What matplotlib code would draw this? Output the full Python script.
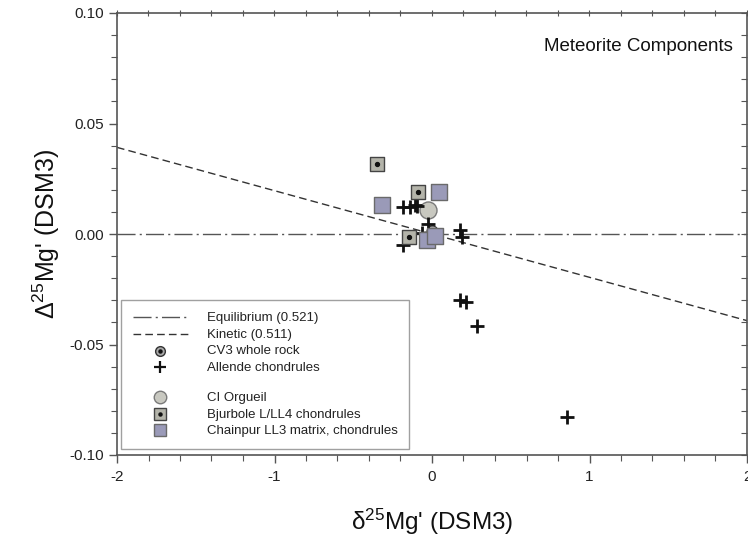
import matplotlib
matplotlib.use("Agg")
import matplotlib.pyplot as plt
from matplotlib.lines import Line2D
import numpy as np

plt.rcParams['font.family'] = ['Liberation Sans', 'DejaVu Sans']
plt.rcParams['mathtext.fontset'] = 'custom'
plt.rcParams['mathtext.rm'] = 'Liberation Sans'
plt.rcParams['mathtext.it'] = 'Liberation Sans'

# ---- data ----
cv3_x = [0.0]
cv3_y = [0.0015]

allende_x = [-0.187, -0.140, -0.108, -0.093, -0.028, -0.066, 0.178, 0.188, -0.183, 0.178, 0.216, 0.284, 0.859]
allende_y = [0.0121, 0.0121, 0.0131, 0.0125, 0.0045, 0.0006, 0.0018, -0.0015, -0.0050, -0.0299, -0.0306, -0.0416, -0.0828]

orgueil_x = [-0.024]
orgueil_y = [0.0109]

bjurbole_x = [-0.347, -0.087, -0.146]
bjurbole_y = [0.0317, 0.0192, -0.0015]

chainpur_x = [0.045, -0.315, -0.033, 0.021]
chainpur_y = [0.0192, 0.0131, -0.0027, -0.0009]

line_x = [-2.0, 2.0]
equilibrium_slope = 0.0
kinetic_slope = -0.0196

x_ticks = [-2, -1, 0, 1, 2]
y_ticks = [-0.10, -0.05, 0.00, 0.05, 0.10]
y_tick_labels = ['-0.10', '-0.05', '0.00', '0.05', '0.10']

SPINE = '#555555'

# ---- figure ----
fig = plt.figure(figsize=(7.48, 5.47), dpi=100)
ax = fig.add_axes([117/748, (547-455)/547, (747-117)/748, (455-13)/547])

lx = np.array(line_x)
eq, = ax.plot(lx, equilibrium_slope * lx, color='#555555', lw=1.0,
              dashes=(13, 3, 1.5, 3), label='Equilibrium (0.521)', zorder=1)
kin, = ax.plot(lx, kinetic_slope * lx, color='#333333', lw=1.0,
               dashes=(5.5, 3), label='Kinetic (0.511)', zorder=1)

# CV3 whole rock: circle with dot
ax.scatter(cv3_x, cv3_y, s=64, marker='o', facecolor='#a8a8a8', edgecolor='#333333', lw=0.8, zorder=3)
ax.scatter(cv3_x, cv3_y, s=6, marker='o', color='#111111', zorder=3)

# Orgueil
ax.scatter(orgueil_x, orgueil_y, s=150, marker='o', facecolor='#c8c8c0', edgecolor='#7a7a7a', lw=1.0, zorder=4)

# Allende crosses
ax.scatter(allende_x, allende_y, s=90, marker='+', color='#111111', lw=2.0, zorder=5)

# Bjurbole squares with dot
ax.scatter(bjurbole_x, bjurbole_y, s=110, marker='s', facecolor='#b4b4aa', edgecolor='#444444', lw=1.0, zorder=6)
ax.scatter(bjurbole_x, bjurbole_y, s=8, marker='o', color='#111111', zorder=6)

# Chainpur squares
ax.scatter(chainpur_x, chainpur_y, s=120, marker='s', facecolor='#9a9ab8', edgecolor='#6a6a6a', lw=1.0, zorder=6)

ax.set_xlim(-2, 2)
ax.set_ylim(-0.10, 0.10)
ax.set_xticks(x_ticks)
ax.set_xticklabels([str(t) for t in x_ticks])
ax.set_yticks(y_ticks)
ax.set_yticklabels(y_tick_labels)
ax.set_xticks(np.arange(-2, 2.001, 0.2), minor=True)
ax.set_yticks(np.arange(-0.10, 0.1001, 0.01), minor=True)

for s in ax.spines.values():
    s.set_color(SPINE)
    s.set_linewidth(1.2)
ax.tick_params(axis='both', which='major', direction='out', length=6, width=1.0,
               color=SPINE, labelsize=11, labelcolor='#222222')
ax.tick_params(axis='both', which='minor', direction='out', length=4, width=0.8, color=SPINE)
ax.tick_params(axis='x', which='major', pad=5)

# top and right ticks
top = ax.secondary_xaxis('top')
top.set_xticks(x_ticks)
top.set_xticks(np.arange(-2, 2.001, 0.2), minor=True)
top.tick_params(which='both', direction='inout', length=4, width=0.8, color=SPINE,
                labeltop=False)
top.spines['top'].set_visible(False)
right = ax.secondary_yaxis('right')
right.set_yticks(y_ticks)
right.set_yticks(np.arange(-0.10, 0.1001, 0.01), minor=True)
right.tick_params(which='both', direction='in', length=4, width=0.8, color=SPINE,
                  labelright=False)
right.spines['right'].set_visible(False)

ax.set_xlabel("δ$^{25}$Mg' (DSM3)", fontsize=17.5, labelpad=16, color='#111111')
ax.set_ylabel("Δ$^{25}$Mg' (DSM3)", fontsize=18, labelpad=5, color='#111111')

ax.text(0.978, 0.925, 'Meteorite Components', transform=ax.transAxes, ha='right', va='center',
        fontsize=13.5, color='#111111')

# legend
h_cv3 = (Line2D([], [], marker='o', ls='none', markersize=7, markerfacecolor='#a8a8a8',
                markeredgecolor='#333333'),
         Line2D([], [], marker='o', ls='none', markersize=2.2, color='#111111'))
h_all = Line2D([], [], marker='+', ls='none', markersize=8, color='#111111', markeredgewidth=1.6)
h_blank = Line2D([], [], ls='none')
h_org = Line2D([], [], marker='o', ls='none', markersize=9, markerfacecolor='#c8c8c0',
               markeredgecolor='#7a7a7a')
h_bj = (Line2D([], [], marker='s', ls='none', markersize=8, markerfacecolor='#b4b4aa',
               markeredgecolor='#444444'),
        Line2D([], [], marker='o', ls='none', markersize=2.2, color='#111111'))
h_ch = Line2D([], [], marker='s', ls='none', markersize=8, markerfacecolor='#9a9ab8',
              markeredgecolor='#6a6a6a')
handles = [eq, kin, h_cv3, h_all, h_blank, h_org, h_bj, h_ch]
labels = ['Equilibrium (0.521)', 'Kinetic (0.511)', 'CV3 whole rock', 'Allende chondrules', '',
          'CI Orgueil', 'Bjurbole L/LL4 chondrules', 'Chainpur LL3 matrix, chondrules']
leg = ax.legend(handles, labels, loc='lower left', bbox_to_anchor=(0.006, 0.013),
                fontsize=9.5, frameon=True, fancybox=False, edgecolor='#888888',
                handlelength=4.2, handletextpad=1.4, labelspacing=0.35, borderpad=0.9,
                borderaxespad=0.0, handleheight=0.35)
leg.get_frame().set_linewidth(1.0)
for t in leg.get_texts():
    t.set_color('#222222')
leg.get_texts()[4].set_fontsize(2)
fig.savefig('out.png', dpi=100)
